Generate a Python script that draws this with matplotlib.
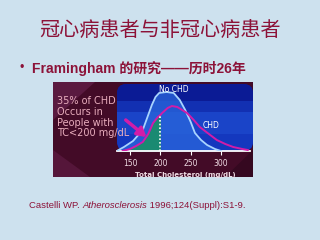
import matplotlib
matplotlib.use("Agg")
import matplotlib.pyplot as plt
import numpy as np
from matplotlib.patches import FancyBboxPatch, Polygon, Rectangle
from matplotlib.colors import ListedColormap

# ---------------- data ----------------
title = "冠心病患者与非冠心病患者"
bullet_text = "Framingham 的研究——历时26年"
annot_lines = ["35% of CHD", "Occurs in", "People with", "TC<200 mg/dL"]
xlabel = "Total Cholesterol (mg/dL)"
xticks = [150, 200, 250, 300]
xtick_labels = ["150", "200", "250", "300"]

nochd_x = [128, 140, 155, 171, 180, 186, 192, 198, 210, 222, 232, 241, 250, 257, 267, 277, 290, 300]
nochd_y = [0, 4, 10, 21, 36, 46, 54, 58, 59, 58, 51, 41, 29, 18, 11, 6, 2, 0]

chd_x = [138, 150, 160, 171, 180, 188, 196, 200, 203, 212, 219, 228, 236, 244, 255, 265, 280, 293, 307, 320, 335, 344]
chd_y = [0, 2, 5, 9, 17, 28, 34, 36, 38, 43, 45, 44, 41, 38, 31, 24, 17, 11, 7, 4, 2, 1]

cutoff = 200

# ---------------- figure ----------------
W, H = 320, 240
fig = plt.figure(figsize=(3.2, 2.4), dpi=100)
fig.patch.set_facecolor("#cde1ee")

def fx(x):
    return x / W

def fy(y):
    return 1 - y / H

red = "#8c1238"
cjk = ["Noto Sans CJK SC", "DejaVu Sans"]
lat = ["Liberation Sans", "Noto Sans CJK SC"]

fig.text(fx(160), fy(31), title, ha="center", va="center", fontsize=14.5,
         color=red, family=cjk)
fig.text(fx(22), fy(68), "•", ha="center", va="center", fontsize=9, color=red, family=lat)
fig.text(fx(32), fy(68), bullet_text, ha="left", va="center", fontsize=10,
         color=red, family=lat, fontweight="bold")

# citation
t1 = fig.text(fx(29), fy(205), "Castelli WP. ", ha="left", va="center", fontsize=6.8,
              color=red, family=lat)
fig.canvas.draw()
r = fig.canvas.get_renderer()
bb = t1.get_window_extent(r)
t2 = fig.text(bb.x1 / W, fy(205), "Atherosclerosis", ha="left", va="center", fontsize=6.8,
              color=red, family=lat, style="italic")
bb2 = t2.get_window_extent(r)
fig.text(bb2.x1 / W, fy(205), " 1996;124(Suppl):S1-9.", ha="left", va="center", fontsize=6.8,
         color=red, family=lat)

# ---------------- inner picture background ----------------
bg = fig.add_axes([fx(53), fy(177), 200 / W, 95 / H])
bg.set_xlim(53, 253)
bg.set_ylim(177, 82)
bg.axis("off")
bg.add_patch(Rectangle((53, 82), 200, 95, facecolor="#430b27", edgecolor="none"))
bg.add_patch(Polygon([(53, 82), (95, 82), (53, 120)], closed=True, facecolor="#5a1a40", edgecolor="none"))
bg.add_patch(Polygon([(53, 150), (90, 177), (53, 177)], closed=True, facecolor="#55163a", edgecolor="none"))
bg.add_patch(Polygon([(225, 177), (253, 150), (253, 177)], closed=True, facecolor="#350820", edgecolor="none"))

# ---------------- chart panel ----------------
x0_px, x1_px = 117, 253
y_top, y_base = 84, 151
s = 0.607  # px per mg/dL
xlo = 150 + (x0_px - 130) / s
xhi = 150 + (x1_px - 130) / s

ax = fig.add_axes([fx(x0_px), fy(y_base), (x1_px - x0_px) / W, (y_base - y_top) / H])
ax.set_xlim(xlo, xhi)
ax.set_ylim(0, y_base - y_top)
ax.patch.set_alpha(0)

panel = FancyBboxPatch((0, 0), 1, 1, boxstyle="round,pad=0,rounding_size=0.07",
                       transform=ax.transAxes, facecolor="#0b1b95", edgecolor="none",
                       mutation_aspect=(x1_px - x0_px) / (y_base - y_top), zorder=0)
ax.add_patch(panel)
grad = np.array([[0], [0], [0], [1], [1], [2], [2], [2], [2], [3], [3], [3]])
cm = ListedColormap(["#0b1b95", "#1230b2", "#1a44c8", "#1438be"])
im = ax.imshow(grad, extent=[xlo, xhi, 0, y_base - y_top], aspect="auto",
               cmap=cm, vmin=0, vmax=3, origin="upper", zorder=0.5, interpolation="nearest")
im.set_clip_path(panel)

ax.fill_between(nochd_x, 0, nochd_y, color="#2a66dc", alpha=0.75, linewidth=0, zorder=1)

cx = np.array(chd_x)
cy = np.array(chd_y)
mask = cx <= cutoff
ax.fill_between(cx[mask], 0, cy[mask], color="#1a8a72", linewidth=0, zorder=2)

ax.plot(nochd_x, nochd_y, color="#a8d4ff", lw=1.3, zorder=3, solid_joinstyle="round")
ax.plot(chd_x, chd_y, color="#d21ca8", lw=1.4, zorder=4, solid_joinstyle="round")
ax.plot([cutoff, cutoff], [0, 36], color="white", lw=1.2, ls=(0, (1, 1.2)), zorder=5)

ax.text(222, 61, "No CHD", ha="center", va="center", fontsize=5.5, color="white")
ax.text(283, 25, "CHD", ha="center", va="center", fontsize=5.5, color="white")

ax.annotate("", xy=(177, 14), xytext=(143, 31),
            arrowprops=dict(arrowstyle="-|>,head_length=0.5,head_width=0.3",
                            color="#d21ca8", lw=2.5, shrinkA=0, shrinkB=0),
            annotation_clip=False, zorder=6)

for sp in ["top", "right", "left"]:
    ax.spines[sp].set_visible(False)
ax.spines["bottom"].set_color("white")
ax.spines["bottom"].set_linewidth(1.3)
ax.spines["bottom"].set_bounds(xlo, 150 + (250 - 130) / s)
ax.set_yticks([])
ax.set_xticks(xticks)
ax.set_xticklabels(xtick_labels, fontsize=5.5, color="#f0dce4")
ax.tick_params(axis="x", colors="white", length=3, width=0.8, pad=3, labelcolor="#f0dce4")
ax.set_xlabel(xlabel, fontsize=5, color="#f0dce4", fontweight="bold", labelpad=3)

# annotation text on top of the panel
for i, line in enumerate(annot_lines):
    fig.text(fx(57), fy(101 + i * 10.8), line, ha="left", va="center", fontsize=7,
             color="#e8adbd", family=["DejaVu Sans"], zorder=10)

fig.savefig("out.png", dpi=100, facecolor=fig.get_facecolor())
